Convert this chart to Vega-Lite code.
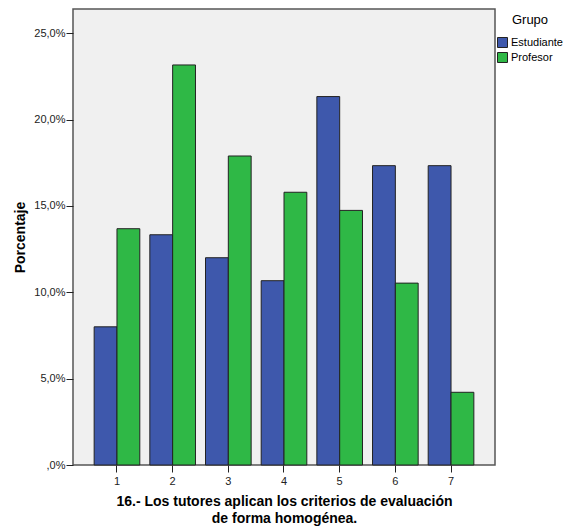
{
  "$schema": "https://vega.github.io/schema/vega-lite/v6.json",
  "width": 422,
  "height": 456,
  "autosize": {"type": "none"},
  "padding": {"left": 73, "top": 9, "right": 70, "bottom": 65},
  "background": "white",
  "config": {
    "font": "Liberation Sans",
    "view": {"fill": "#F0F0F0", "stroke": "#555555", "strokeWidth": 1.5}
  },
  "data": {
    "values": [
      {"cat": "1", "Grupo": "Estudiante", "pct": 8.0},
      {"cat": "1", "Grupo": "Profesor", "pct": 13.68},
      {"cat": "2", "Grupo": "Estudiante", "pct": 13.33},
      {"cat": "2", "Grupo": "Profesor", "pct": 23.16},
      {"cat": "3", "Grupo": "Estudiante", "pct": 12.0},
      {"cat": "3", "Grupo": "Profesor", "pct": 17.89},
      {"cat": "4", "Grupo": "Estudiante", "pct": 10.67},
      {"cat": "4", "Grupo": "Profesor", "pct": 15.79},
      {"cat": "5", "Grupo": "Estudiante", "pct": 21.33},
      {"cat": "5", "Grupo": "Profesor", "pct": 14.74},
      {"cat": "6", "Grupo": "Estudiante", "pct": 17.33},
      {"cat": "6", "Grupo": "Profesor", "pct": 10.53},
      {"cat": "7", "Grupo": "Estudiante", "pct": 17.33},
      {"cat": "7", "Grupo": "Profesor", "pct": 4.21}
    ]
  },
  "mark": {"type": "bar", "stroke": "#222222", "strokeWidth": 1},
  "encoding": {
    "x": {
      "field": "cat",
      "type": "nominal",
      "scale": {"paddingInner": 0.18, "paddingOuter": 0.38},
      "axis": {
        "title": ["16.- Los tutores aplican los criterios de evaluación", "de forma homogénea."],
        "titleFont": "Liberation Sans",
        "titleFontSize": 14,
        "titleFontWeight": "bold",
        "titleColor": "black",
        "titleLineHeight": 17,
        "titlePadding": 8,
        "labelAngle": 0,
        "labelFontSize": 11,
        "labelColor": "#222222",
        "labelPadding": 3,
        "tickSize": 7,
        "tickColor": "#222222",
        "domain": false
      }
    },
    "xOffset": {"field": "Grupo", "type": "nominal", "scale": {"paddingInner": 0, "paddingOuter": 0}},
    "y": {
      "field": "pct",
      "type": "quantitative",
      "scale": {"domain": [0, 26.4], "nice": false},
      "axis": {
        "title": "Porcentaje",
        "titleFontSize": 14,
        "titleFontWeight": "bold",
        "titleColor": "black",
        "titleX": -53,
        "titleY": 228,
        "titleAngle": -90,
        "titleAlign": "center",
        "titleBaseline": "middle",
        "values": [0, 5, 10, 15, 20, 25],
        "labelExpr": "datum.value == 0 ? ',0%' : replace(format(datum.value, '.1f'), '.', ',') + '%'",
        "labelFontSize": 11,
        "labelColor": "#222222",
        "labelPadding": 1,
        "tickSize": 7,
        "tickColor": "#222222",
        "grid": false,
        "domain": false
      }
    },
    "color": {
      "field": "Grupo",
      "type": "nominal",
      "scale": {"domain": ["Estudiante", "Profesor"], "range": ["#3E58AC", "#2FB846"]},
      "legend": {
        "orient": "none",
        "legendX": 424,
        "legendY": 5,
        "title": "Grupo",
        "titleFontSize": 13,
        "titleFontWeight": "normal",
        "titleColor": "black",
        "titlePadding": 10,
        "titleAnchor": "middle",
        "labelFontSize": 11,
        "labelColor": "black",
        "symbolType": "square",
        "symbolSize": 100,
        "symbolStrokeColor": "#222222",
        "symbolStrokeWidth": 1,
        "rowPadding": 0,
        "labelOffset": 3
      }
    }
  }
}
